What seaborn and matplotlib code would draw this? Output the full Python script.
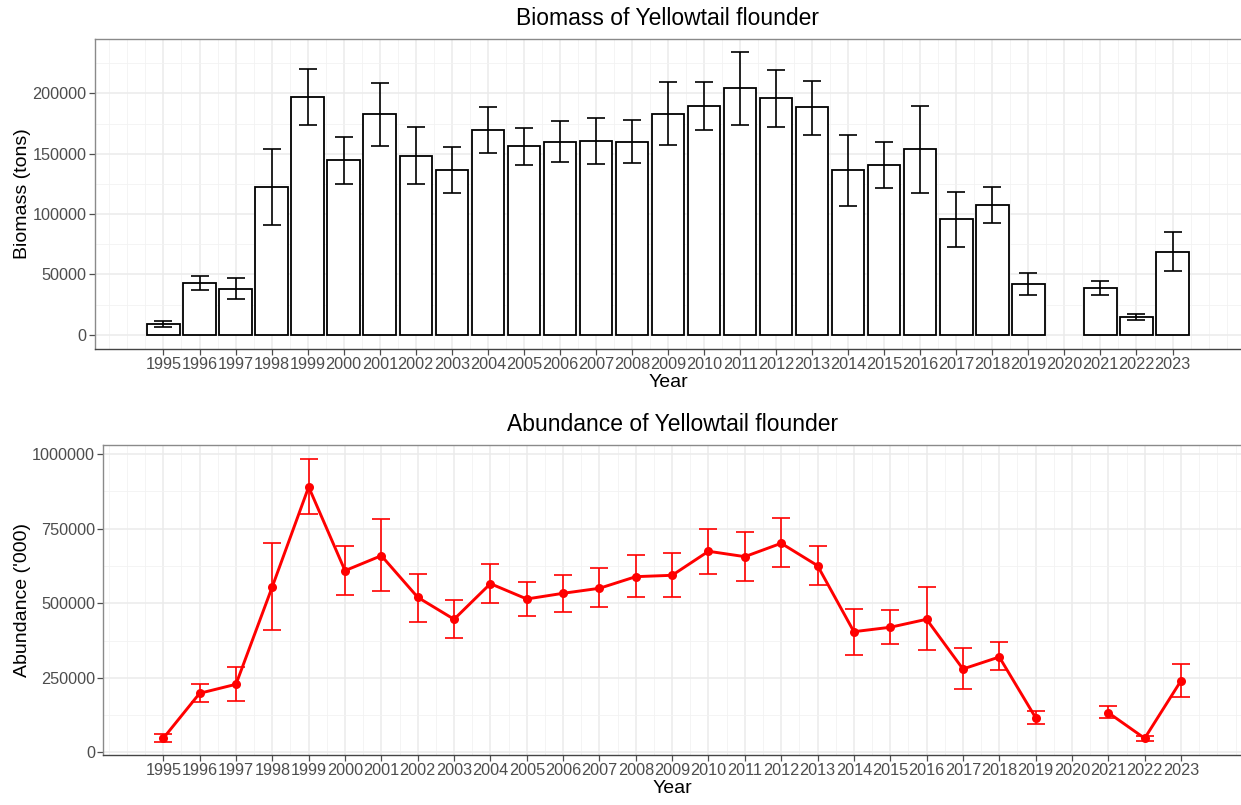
import numpy as np
import pandas as pd
import matplotlib
matplotlib.use("Agg")
import matplotlib.pyplot as plt
import seaborn as sns

# ---------------- data ----------------
years = list(range(1995, 2024))

biomass = [9000, 42800, 38300, 122700, 197200, 144500, 182600, 148400, 136500, 169900,
           156100, 160000, 160500, 160000, 183100, 189200, 204100, 195900, 188400, 136300,
           140900, 153900, 95700, 107600, 42200, np.nan, 38600, 15200, 68900]
biomass_lo = [6400, 37000, 29800, 91300, 173800, 125200, 156700, 125000, 117300, 150900,
              140900, 143200, 141800, 142300, 157200, 169600, 173800, 171900, 165800, 106700,
              121900, 117800, 72600, 92700, 33100, np.nan, 33100, 12100, 52700]
biomass_hi = [11600, 49100, 46900, 154200, 219800, 163600, 208800, 171900, 155800, 188700,
              171300, 176800, 179300, 177600, 209100, 209600, 233900, 219300, 209900, 165800,
              159500, 189500, 118600, 122700, 51000, np.nan, 44400, 17400, 85000]

abundance = [47000, 198000, 228200, 555700, 890300, 609400, 659700, 520100, 446300, 565800,
             514400, 533500, 550300, 589300, 593900, 674500, 656400, 701300, 626200, 404700,
             419500, 446300, 279500, 319800, 116100, np.nan, 132900, 47000, 240300]
abundance_lo = [34600, 168800, 172100, 411400, 799700, 527900, 541300, 438300, 383500, 502000,
                457400, 471900, 487600, 522100, 522100, 599400, 574800, 621800, 560400, 327500,
                362400, 342300, 211400, 276200, 94000, np.nan, 114100, 38900, 186600]
abundance_hi = [61400, 229200, 287300, 702300, 984200, 692300, 781900, 598300, 510000, 630900,
                571500, 595000, 617400, 661000, 668800, 749300, 738200, 785200, 693300, 481900,
                476500, 553700, 349000, 369100, 139600, np.nan, 154400, 55700, 297300]

bio_ticks = [0, 50000, 100000, 150000, 200000]
abu_ticks = [0, 250000, 500000, 750000, 1000000]

df = pd.DataFrame({"Year": years,
                   "Biomass": biomass, "B_lo": biomass_lo, "B_hi": biomass_hi,
                   "Abundance": abundance, "A_lo": abundance_lo, "A_hi": abundance_hi})
df["seg"] = np.where(df["Year"] < 2020, 0, 1)
dfv = df.dropna().reset_index(drop=True)

# ---------------- style ----------------
sns.set_theme(style="white")
plt.rcParams["font.family"] = ["Liberation Sans", "DejaVu Sans"]

W, H = 1241, 805
fig = plt.figure(figsize=(W / 100, H / 100), dpi=100)
fig.patch.set_facecolor("white")

ax1 = fig.add_axes([95 / W, 1 - 349 / H, (1241 - 95) / W, (349 - 39) / H])
ax2 = fig.add_axes([103.3 / W, 1 - 755 / H, (1241 - 103.3) / W, (755 - 445) / H])

TICK_COL = "#4D4D4D"


def style_axes(ax, yticks, yminor, xlim, ylim):
    ax.set_facecolor("white")
    ax.set_xlim(*xlim)
    ax.set_ylim(*ylim)
    ax.set_xticks(years)
    ax.set_xticklabels([str(y) for y in years])
    ax.set_xticks(np.arange(1993.5, 2025.0, 0.5), minor=True)
    ax.set_yticks(yticks)
    ax.set_yticklabels([str(v) for v in yticks])
    ax.set_yticks(yminor, minor=True)
    ax.grid(True, which="major", color="#EBEBEB", linewidth=1.1, zorder=0)
    ax.grid(True, which="minor", color="#F2F2F2", linewidth=0.6, zorder=0)
    ax.set_axisbelow(True)
    ax.tick_params(axis="both", which="major", labelsize=11.7, colors=TICK_COL,
                   length=4, width=0.9, pad=2, labelcolor=TICK_COL)
    ax.tick_params(axis="both", which="minor", length=0)
    ax.tick_params(axis="x", bottom=True, top=False)
    ax.tick_params(axis="y", left=True, right=False)
    for s in ["top", "left", "right"]:
        ax.spines[s].set_color("#8A8A8A")
        ax.spines[s].set_linewidth(1.0)
    ax.spines["right"].set_visible(False)
    ax.spines["bottom"].set_color("#444444")
    ax.spines["bottom"].set_linewidth(1.0)


# ---------------- top: biomass bars ----------------
sns.barplot(data=dfv, x="Year", y="Biomass", native_scale=True, width=0.9,
            color="white", saturation=1, edgecolor="black", linewidth=1.3,
            errorbar=None, ax=ax1, zorder=2)
ax1.errorbar(dfv["Year"], dfv["Biomass"],
             yerr=[dfv["Biomass"] - dfv["B_lo"], dfv["B_hi"] - dfv["Biomass"]],
             fmt="none", ecolor="black", elinewidth=1.2, capsize=6.4, capthick=1.2,
             zorder=3)
style_axes(ax1, bio_ticks, np.arange(25000, 250000, 50000),
           (1993.1, 2024.9), (-11700, 245000))
ax1.set_title("Biomass of Yellowtail flounder", fontsize=16.5, color="black", pad=10)
ax1.set_xlabel("Year", fontsize=14, color="black", labelpad=1)
ax1.set_ylabel("Biomass (tons)", fontsize=14, color="black", labelpad=1)

# ---------------- bottom: abundance line ----------------
sns.lineplot(data=dfv, x="Year", y="Abundance", units="seg", estimator=None,
             color="red", linewidth=2.1, marker="o", markersize=6.5,
             markeredgewidth=0, ax=ax2, zorder=3, legend=False)
ax2.errorbar(dfv["Year"], dfv["Abundance"],
             yerr=[dfv["Abundance"] - dfv["A_lo"], dfv["A_hi"] - dfv["Abundance"]],
             fmt="none", ecolor="red", elinewidth=1.2, capsize=6.4, capthick=1.2,
             zorder=3)
style_axes(ax2, abu_ticks, np.arange(125000, 1000000, 250000),
           (1993.35, 2024.65), (-9000, 1031000))
ax2.set_title("Abundance of Yellowtail flounder", fontsize=16.5, color="black", pad=10)
ax2.set_xlabel("Year", fontsize=14, color="black", labelpad=1)
ax2.set_ylabel("Abundance ('000)", fontsize=14, color="black", labelpad=1)

fig.savefig("out.png", dpi=100, facecolor="white")
